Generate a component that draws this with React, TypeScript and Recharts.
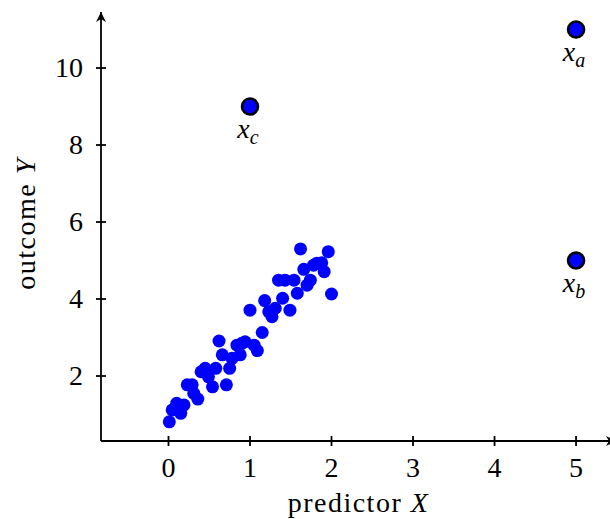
import React from 'react';
import {
  ScatterChart,
  Scatter,
  XAxis,
  YAxis,
  ReferenceDot,
} from 'recharts';

// main cloud of observations
const clusterX = [
  0.01, 0.045, 0.1, 0.15, 0.19, 0.23, 0.29, 0.31, 0.36, 0.4, 0.45, 0.49, 0.54, 0.58,
  0.62, 0.66, 0.71, 0.75, 0.78, 0.84, 0.88, 0.9, 0.94, 1.0, 1.05, 1.09, 1.15, 1.18,
  1.23, 1.27, 1.31, 1.35, 1.4, 1.43, 1.49, 1.54, 1.58, 1.62, 1.66, 1.7, 1.74, 1.78,
  1.82, 1.88, 1.91, 1.96, 2.0,
];
const clusterY = [
  0.81, 1.12, 1.29, 1.03, 1.25, 1.77, 1.77, 1.55, 1.4, 2.11, 2.2, 1.98, 1.72, 2.2,
  2.91, 2.55, 1.77, 2.2, 2.46, 2.8, 2.55, 2.85, 2.89, 3.71, 2.8, 2.66, 3.13, 3.96,
  3.67, 3.54, 3.76, 4.49, 4.02, 4.49, 3.71, 4.49, 4.15, 5.3, 4.77, 4.36, 4.49, 4.88,
  4.93, 4.94, 4.71, 5.23, 4.13,
];

// the three unusual points
const outlierNames = ['a', 'b', 'c'];
const outlierX = [5, 5, 1];
const outlierY = [11, 5, 9];

const xTicks = [0, 1, 2, 3, 4, 5];
const yTicks = [2, 4, 6, 8, 10];
const xDomain = [-0.828, 5.49];
const yDomain = [0.312, 11.455];

const cluster = clusterX.map((x, i) => ({ x, y: clusterY[i] }));
const outliers = outlierX.map((x, i) => ({ x, y: outlierY[i], name: outlierNames[i] }));

const FONT = '"Liberation Serif", serif';

const XTick = (props: any) => {
  const { x, y, payload } = props;
  return (
    <g>
      <line x1={x} x2={x} y1={y - 5} y2={y + 5} stroke="#000" strokeWidth={1.8} />
      <text x={x} y={y + 36} textAnchor="middle" fontSize={28} fontFamily={FONT} fill="#000">
        {payload.value}
      </text>
    </g>
  );
};

const YTick = (props: any) => {
  const { x, y, payload } = props;
  return (
    <g>
      <line x1={x - 5} x2={x + 5} y1={y} y2={y} stroke="#000" strokeWidth={1.8} />
      <text x={x - 18} y={y + 9} textAnchor="end" fontSize={28} fontFamily={FONT} fill="#000">
        {payload.value}
      </text>
    </g>
  );
};

const XLabel = (props: any) => {
  const { x, y, width } = props.viewBox;
  return (
    <text x={x + width / 2} y={y + 71} textAnchor="middle" fontSize={28} fontFamily={FONT} letterSpacing={1.5} fill="#000">
      predictor <tspan fontStyle="italic">X</tspan>
    </text>
  );
};

const YLabel = (props: any) => {
  const { x, y, height } = props.viewBox;
  const cx = x + 14;
  const cy = y + height / 2 - 3;
  return (
    <text x={cx} y={cy} transform={`rotate(-90, ${cx}, ${cy})`} textAnchor="middle" fontSize={28} fontFamily={FONT} letterSpacing={1.5} fill="#000">
      outcome <tspan fontStyle="italic">Y</tspan>
    </text>
  );
};

const Dot = (props: any) => <circle cx={props.cx} cy={props.cy} r={6.5} fill="#0000ff" />;

const Outlier = (props: any) => (
  <g>
    <circle cx={props.cx} cy={props.cy} r={8} fill="#0000ff" stroke="#000" strokeWidth={2.6} />
    <text x={props.cx - 2} y={props.cy + 31} textAnchor="middle" fontSize={28} fontFamily={FONT} fontStyle="italic" fill="#000">
      x<tspan fontSize={20} dy={6}>{props.payload.name}</tspan>
    </text>
  </g>
);

const UpArrow = (props: any) => {
  const { cx, cy } = props;
  return <path d={`M${cx},${cy} L${cx - 5},${cy + 10} L${cx},${cy + 7} L${cx + 5},${cy + 10} Z`} fill="#000" />;
};

const RightArrow = (props: any) => {
  const { cx, cy } = props;
  return <path d={`M${cx},${cy} L${cx - 10},${cy - 5} L${cx - 7},${cy} L${cx - 10},${cy + 5} Z`} fill="#000" />;
};

export default function App() {
  return (
    <div style={{ position: 'absolute', left: 0, top: 0, width: 610, height: 519, overflow: 'hidden', background: '#fff' }}>
      <ScatterChart width={618} height={519} margin={{ top: 12, right: 2, bottom: 38, left: 21 }}>
        <XAxis
          type="number"
          dataKey="x"
          domain={xDomain}
          ticks={xTicks}
          allowDataOverflow
          height={40}
          tickLine={false}
          tickSize={0}
          tickMargin={0}
          axisLine={{ stroke: '#000', strokeWidth: 1.8 }}
          tick={<XTick />}
          label={{ content: XLabel }}
        />
        <YAxis
          type="number"
          dataKey="y"
          domain={yDomain}
          ticks={yTicks}
          allowDataOverflow
          width={80}
          tickLine={false}
          tickSize={0}
          tickMargin={0}
          axisLine={{ stroke: '#000', strokeWidth: 1.8 }}
          tick={<YTick />}
          label={{ content: YLabel }}
        />
        <Scatter data={cluster} shape={Dot} isAnimationActive={false} />
        <Scatter data={outliers} shape={Outlier} isAnimationActive={false} />
        <ReferenceDot x={xDomain[0]} y={yDomain[1]} ifOverflow="visible" shape={UpArrow} />
        <ReferenceDot x={xDomain[1]} y={yDomain[0]} ifOverflow="visible" shape={RightArrow} />
      </ScatterChart>
    </div>
  );
}
